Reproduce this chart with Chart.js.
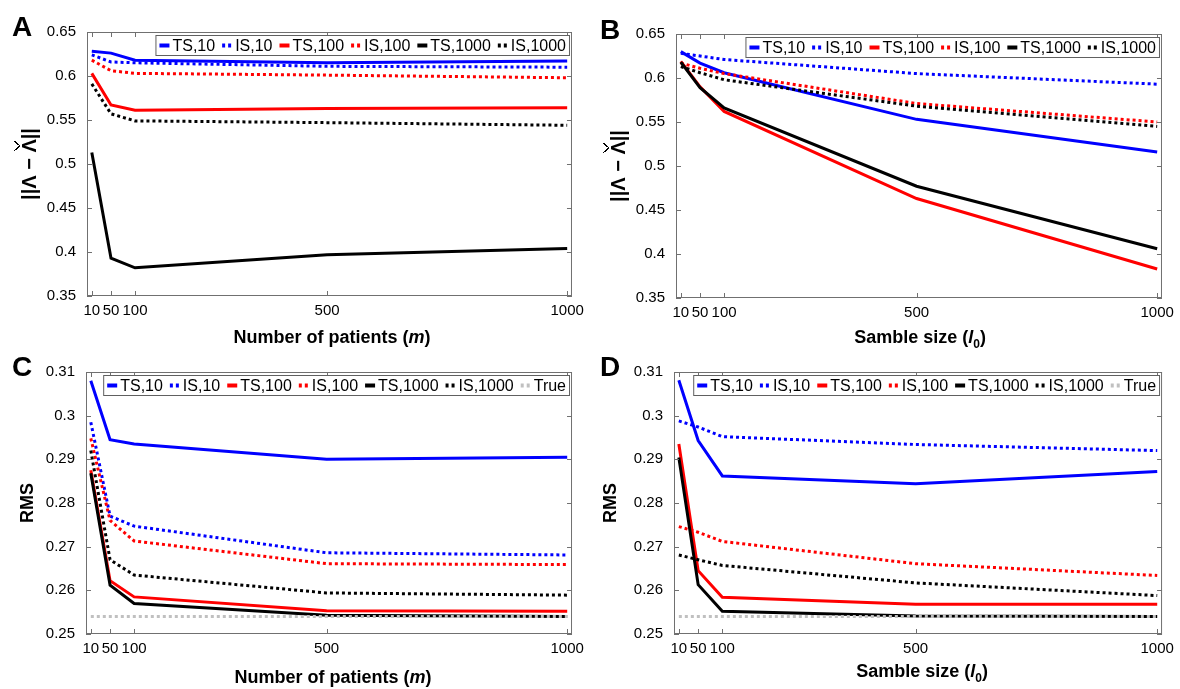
<!DOCTYPE html>
<html>
<head>
<meta charset="utf-8">
<script src="https://cdn.jsdelivr.net/npm/chart.js@4.4.1/dist/chart.umd.min.js"></script>
<style>
    body { margin: 0; background: #fff; width: 1180px; height: 689px; position: relative; overflow: hidden;
           font-family: "Liberation Sans", Arial, sans-serif; color: #000; }
    canvas { position: absolute; }
    .letter { position: absolute; font-weight: bold; font-size: 28px; line-height: 1; }
    .xt { position: absolute; font-weight: bold; font-size: 18px; line-height: 1; white-space: nowrap; transform: translateX(-50%); }
    .yt { position: absolute; font-weight: bold; line-height: 1; white-space: nowrap; transform: translate(-50%, -50%) rotate(-90deg); }
    .hat { position: relative; display: inline-block; }
    .hat::after { content: ''; position: absolute; left: 2px; right: 2px; top: -5px; height: 6px;
                  background: linear-gradient(to top right, transparent 42%, #000 43%, #000 57%, transparent 58%) left / 50% 100% no-repeat,
                              linear-gradient(to top left, transparent 42%, #000 43%, #000 57%, transparent 58%) right / 50% 100% no-repeat; }
</style>
</head>
<body>
<canvas id="chart-a" width="590" height="345" style="left:0;top:0"></canvas>
<canvas id="chart-b" width="590" height="345" style="left:590px;top:0"></canvas>
<canvas id="chart-c" width="590" height="344" style="left:0;top:345px"></canvas>
<canvas id="chart-d" width="590" height="344" style="left:590px;top:345px"></canvas>

<div class="letter" style="left:12px;top:13px">A</div>
<div class="letter" style="left:600px;top:16px">B</div>
<div class="letter" style="left:12px;top:353px">C</div>
<div class="letter" style="left:600px;top:353px">D</div>

<div class="yt" style="left:29px;top:164px;font-size:20px">||Λ − <span class="hat">Λ</span>||</div>
<div class="yt" style="left:618px;top:166px;font-size:20px">||Λ − <span class="hat">Λ</span>||</div>
<div class="yt" style="left:27px;top:503px;font-size:18px">RMS</div>
<div class="yt" style="left:610px;top:503px;font-size:18px">RMS</div>

<div class="xt" style="left:332px;top:328px">Number of patients (<i>m</i>)</div>
<div class="xt" style="left:920px;top:328px">Samble size (<i>l</i><sub style="font-size:12px">0</sub>)</div>
<div class="xt" style="left:333px;top:668px">Number of patients (<i>m</i>)</div>
<div class="xt" style="left:922px;top:662px">Samble size (<i>l</i><sub style="font-size:12px">0</sub>)</div>

<script>
const xValues = [10, 50, 100, 500, 1000];
const xTickValues = [10, 50, 100, 500, 1000];
const normTicks = [0.35, 0.4, 0.45, 0.5, 0.55, 0.6, 0.65];
const rmsTicks = [0.25, 0.26, 0.27, 0.28, 0.29, 0.3, 0.31];
const seriesLabels = ['TS,10', 'IS,10', 'TS,100', 'IS,100', 'TS,1000', 'IS,1000', 'True'];

// A: ||Λ − Λ̂|| vs number of patients
const aTS10 = [0.628, 0.626, 0.618, 0.615, 0.617];
const aIS10 = [0.624, 0.616, 0.615, 0.611, 0.610];
const aTS100 = [0.603, 0.567, 0.561, 0.563, 0.564];
const aIS100 = [0.618, 0.606, 0.603, 0.601, 0.598];
const aTS1000 = [0.513, 0.393, 0.382, 0.397, 0.404];
const aIS1000 = [0.591, 0.557, 0.549, 0.547, 0.544];

// B: ||Λ − Λ̂|| vs sample size
const bTS10 = [0.630, 0.617, 0.606, 0.553, 0.516];
const bIS10 = [0.628, 0.625, 0.621, 0.605, 0.593];
const bTS100 = [0.619, 0.590, 0.562, 0.463, 0.383];
const bIS100 = [0.617, 0.611, 0.605, 0.571, 0.550];
const bTS1000 = [0.618, 0.589, 0.566, 0.477, 0.406];
const bIS1000 = [0.613, 0.606, 0.598, 0.568, 0.545];

// C: RMS vs number of patients
const cTS10 = [0.3080, 0.2945, 0.2935, 0.2900, 0.2905];
const cIS10 = [0.2985, 0.2770, 0.2747, 0.2686, 0.2681];
const cTS100 = [0.2875, 0.2622, 0.2585, 0.2553, 0.2552];
const cIS100 = [0.2948, 0.2760, 0.2713, 0.2661, 0.2659];
const cTS1000 = [0.2868, 0.2612, 0.2570, 0.2543, 0.2540];
const cIS1000 = [0.2920, 0.2670, 0.2635, 0.2594, 0.2589];
const cTrue = [0.254, 0.254, 0.254, 0.254, 0.254];

// D: RMS vs sample size
const dTS10 = [0.3081, 0.2943, 0.2862, 0.2844, 0.2872];
const dIS10 = [0.2988, 0.2974, 0.2952, 0.2934, 0.2920];
const dTS100 = [0.2935, 0.2645, 0.2584, 0.2568, 0.2568];
const dIS100 = [0.2746, 0.2733, 0.2712, 0.2661, 0.2634];
const dTS1000 = [0.2904, 0.2613, 0.2552, 0.2541, 0.2540];
const dIS1000 = [0.2681, 0.2670, 0.2657, 0.2617, 0.2588];
const dTrue = [0.254, 0.254, 0.254, 0.254, 0.254];

const FONT = '"Liberation Sans", Arial, sans-serif';
const seriesColors = ['#0000ff', '#0000ff', '#ff0000', '#ff0000', '#000000', '#000000', '#c0c0c0'];
const seriesDotted = [false, true, false, true, false, true, true];

// box, inward ticks and legend drawn the matlab way
const framePlugin = {
    id: 'matlabFrame',
    afterDatasetsDraw(chart) {
        const { ctx, chartArea: a } = chart;
        const xs = chart.scales.x, ys = chart.scales.y;
        ctx.save();
        ctx.strokeStyle = '#707070';
        ctx.lineWidth = 1;
        ctx.strokeRect(a.left + 0.5, a.top + 0.5, a.right - a.left - 1, a.bottom - a.top - 1);
        ctx.beginPath();
        xs.ticks.forEach(t => {
            const px = Math.round(xs.getPixelForValue(t.value)) + 0.5;
            ctx.moveTo(px, a.bottom); ctx.lineTo(px, a.bottom - 5);
            ctx.moveTo(px, a.top); ctx.lineTo(px, a.top + 5);
        });
        ys.ticks.forEach(t => {
            const py = Math.round(ys.getPixelForValue(t.value)) + 0.5;
            ctx.moveTo(a.left, py); ctx.lineTo(a.left + 5, py);
            ctx.moveTo(a.right, py); ctx.lineTo(a.right - 5, py);
        });
        ctx.stroke();

        ctx.font = '16px ' + FONT;
        const items = chart.data.datasets.map(ds => ({ ds, w: ctx.measureText(ds.label).width }));
        const sym = 10, gapSym = 3, gapItem = 7, pad = 4, boxH = 21;
        const total = pad * 2 + items.reduce((s, it) => s + sym + gapSym + it.w, 0) + gapItem * (items.length - 1);
        const right = a.right - 2, left = right - total, top = a.top + 3;
        ctx.fillStyle = '#fff';
        ctx.fillRect(left, top, total, boxH);
        ctx.strokeStyle = '#606060';
        ctx.strokeRect(left + 0.5, top + 0.5, total - 1, boxH - 1);
        let cx = left + pad;
        const cy = top + boxH / 2;
        items.forEach(it => {
            ctx.strokeStyle = it.ds.borderColor;
            ctx.lineWidth = 4;
            ctx.setLineDash(it.ds.borderDash || []);
            ctx.beginPath();
            ctx.moveTo(cx, cy); ctx.lineTo(cx + sym, cy);
            ctx.stroke();
            ctx.setLineDash([]);
            ctx.fillStyle = '#000';
            ctx.textBaseline = 'middle';
            ctx.fillText(it.ds.label, cx + sym + gapSym, cy + 1);
            cx += sym + gapSym + it.w + gapItem;
        });
        ctx.restore();
    }
};

function makeDatasets(series) {
    return series.map((ys, i) => ({
        label: seriesLabels[i],
        data: xValues.map((x, j) => ({ x, y: ys[j] })),
        borderColor: seriesColors[i],
        backgroundColor: seriesColors[i],
        borderWidth: 3,
        borderDash: seriesDotted[i] ? [3, 3] : [],
        pointRadius: 0,
        tension: 0,
        order: -i
    }));
}

function renderPanel(id, series, yTicks, layout) {
    const ctx = document.getElementById(id).getContext('2d');
    new Chart(ctx, {
        type: 'line',
        data: { datasets: makeDatasets(series) },
        options: {
            responsive: false,
            animation: false,
            layout: { padding: layout.padding },
            plugins: { legend: { display: false }, tooltip: { enabled: false } },
            scales: {
                x: {
                    type: 'linear',
                    min: 0,
                    max: 1010,
                    grid: { display: false, drawTicks: false },
                    border: { display: false },
                    afterBuildTicks: s => { s.ticks = xTickValues.map(v => ({ value: v })); },
                    afterFit: s => { s.height = layout.xh; },
                    ticks: { autoSkip: false, maxRotation: 0, padding: 6, color: '#000',
                             font: { size: 15, family: FONT }, callback: v => String(v) }
                },
                y: {
                    type: 'linear',
                    min: yTicks[0],
                    max: yTicks[yTicks.length - 1],
                    grid: { display: false, drawTicks: false },
                    border: { display: false },
                    afterBuildTicks: s => { s.ticks = yTicks.map(v => ({ value: v })); },
                    afterFit: s => { s.width = layout.yw; },
                    ticks: { padding: 11, color: '#000', font: { size: 15, family: FONT },
                             callback: v => String(+v.toFixed(2)) }
                }
            }
        },
        plugins: [framePlugin]
    });
}

renderPanel('chart-a', [aTS10, aIS10, aTS100, aIS100, aTS1000, aIS1000], normTicks,
    { padding: { left: 0, top: 32, right: 14, bottom: 0 }, yw: 87, xh: 49 });
renderPanel('chart-b', [bTS10, bIS10, bTS100, bIS100, bTS1000, bIS1000], normTicks,
    { padding: { left: 0, top: 34, right: 15, bottom: 0 }, yw: 86, xh: 47 });
renderPanel('chart-c', [cTS10, cIS10, cTS100, cIS100, cTS1000, cIS1000, cTrue], rmsTicks,
    { padding: { left: 0, top: 27, right: 11, bottom: 0 }, yw: 86, xh: 55 });
renderPanel('chart-d', [dTS10, dIS10, dTS100, dIS100, dTS1000, dIS1000, dTrue], rmsTicks,
    { padding: { left: 0, top: 27, right: 10, bottom: 0 }, yw: 84, xh: 55 });
</script>
</body>
</html>
